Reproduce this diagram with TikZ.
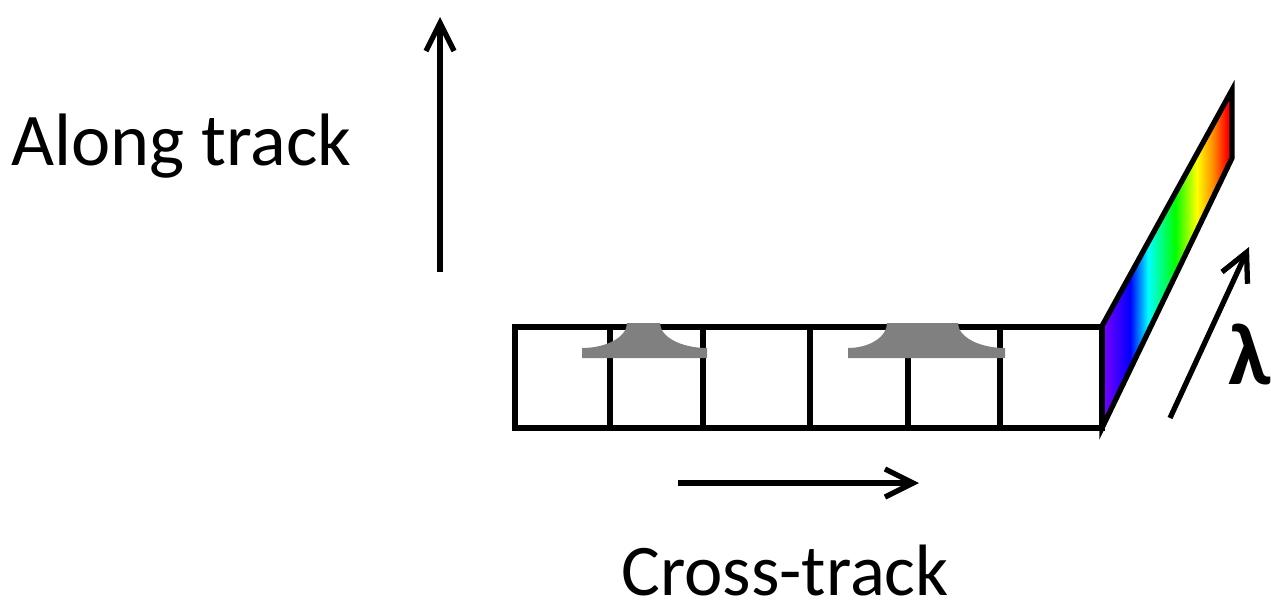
\documentclass[tikz,border=0pt]{standalone}
\usepackage{fontspec}
\setmainfont{Carlito}
\usetikzlibrary{arrows.meta}
\definecolor{spViolet}{RGB}{128,0,255}
\definecolor{spBlue}{RGB}{0,0,255}
\definecolor{spCyan}{RGB}{0,255,255}
\definecolor{spGreen}{RGB}{0,255,0}
\definecolor{spYellow}{RGB}{255,255,0}
\definecolor{spOrange}{RGB}{255,140,0}
\definecolor{spRed}{RGB}{255,0,0}
\definecolor{blobgray}{RGB}{128,128,128}
\pgfdeclarehorizontalshading{spectrum}{100bp}{color(0bp)=(spViolet); color(25bp)=(spViolet); color(35.8bp)=(spBlue); color(42.7bp)=(spCyan); color(53.1bp)=(spGreen); color(61.5bp)=(spYellow); color(67.7bp)=(spOrange); color(73.1bp)=(spRed); color(100bp)=(spRed)}
\tikzset{
  gridline/.style={line width=3pt, line cap=rect},
  bigarrow/.style={line width=3pt, -{Straight Barb[length=16pt, width=16pt]}},
  blob/.style={fill=blobgray, draw=none},
  lbl/.style={inner sep=0pt},
  lam/.style={font=\fontsize{50}{56}\selectfont\bfseries, inner sep=0pt},
}
\begin{document}
\begin{tikzpicture}[x=0.02cm, y=-0.02cm]
\useasboundingbox (0,0) rectangle (1271,606);
% spectrum strip
\coordinate (sBL) at (1102,428);
\coordinate (sTL) at (1102,326);
\coordinate (sTR) at (1232,90);
\coordinate (sBR) at (1232,158);
\shade[shading=spectrum] (sBL) -- (sTL) -- (sTR) -- (sBR) -- cycle;
\draw[gridline, line join=miter] (sBL) -- (sTL) -- (sTR) -- (sBR) -- cycle;
% detector row
\coordinate (gTL) at (515,327);
\coordinate (gBR) at (1102,428);
\draw[gridline] (gTL) rectangle (gBR);
\foreach \xx in {610,703,810,908,1000} {
  \draw[gridline] (\xx,327) -- (\xx,428);
}
% grey spectral blobs
\fill[blob] (582,358) -- (582,348) .. controls (606.8,348) and (627,336.8) .. (627,323)
  -- (660,323) .. controls (660,336.8) and (681,348) .. (707,348) -- (707,358) -- cycle;
\fill[blob] (848,358) -- (848,348) .. controls (869.5,348) and (887,336.8) .. (887,323)
  -- (958,323) .. controls (958,336.8) and (979,348) .. (1005,348) -- (1005,358) -- cycle;
% arrows
\coordinate (upS) at (440,272);
\coordinate (upE) at (440,17);
\draw[bigarrow] (upS) -- (upE);
\coordinate (ctS) at (678,483);
\coordinate (ctE) at (919,483);
\draw[bigarrow] (ctS) -- (ctE);
\coordinate (lmS) at (1170,418);
\coordinate (lmE) at (1249,247);
\draw[bigarrow] (lmS) -- (lmE);
% labels
\node[lbl, font=\fontsize{42.3}{48}\selectfont, anchor=base west] (along) at (11,165) {Along track};
\node[lbl, font=\fontsize{41.4}{48}\selectfont, anchor=base west] (cross) at (621,595) {Cross-track};
\node[lam, anchor=base west] (lambda) at (1228,384) {λ};
\end{tikzpicture}
\end{document}
